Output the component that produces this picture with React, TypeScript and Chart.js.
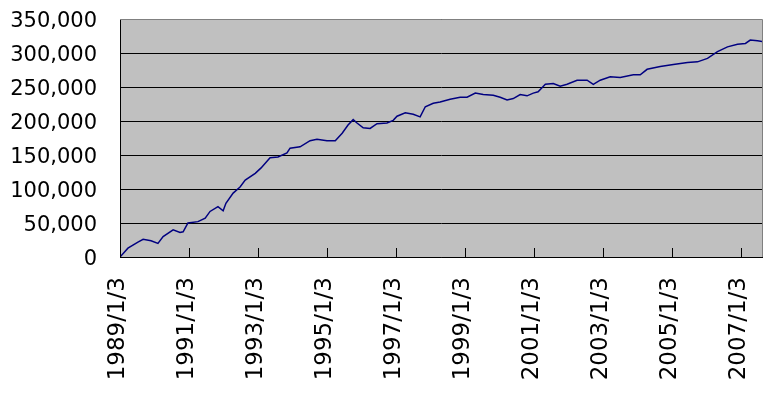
import React, { useEffect, useRef } from "react";
import { Chart, registerables } from "chart.js";

Chart.register(...registerables);

// Decimal year positions of the read points (1989.00 = 1989/1/3)
const years: number[] = [
  1989.0, 1989.23, 1989.52, 1989.67, 1989.9, 1990.1, 1990.25, 1990.54, 1990.74, 1990.83,
  1990.97, 1991.26, 1991.47, 1991.61, 1991.84, 1991.99, 1992.07, 1992.28, 1992.48, 1992.63,
  1992.92, 1993.09, 1993.35, 1993.58, 1993.84, 1993.93, 1994.22, 1994.51, 1994.71, 1995.0,
  1995.24, 1995.44, 1995.61, 1995.76, 1995.87, 1996.05, 1996.25, 1996.45, 1996.74, 1996.92,
  1997.03, 1997.27, 1997.5, 1997.7, 1997.85, 1998.08, 1998.28, 1998.57, 1998.86, 1999.06,
  1999.3, 1999.53, 1999.82, 2000.02, 2000.22, 2000.4, 2000.6, 2000.8, 2000.98, 2001.12,
  2001.33, 2001.56, 2001.76, 2001.96, 2002.25, 2002.54, 2002.72, 2002.92, 2003.21, 2003.5,
  2003.88, 2004.08, 2004.28, 2004.66, 2005.04, 2005.45, 2005.74, 2006.03, 2006.32, 2006.61,
  2006.9, 2007.13, 2007.27, 2007.48, 2007.62,
];

const values: number[] = [
  0, 13000, 22000, 26000, 24000, 20000, 30000, 40000, 36000, 37000,
  50000, 52000, 57000, 67000, 74000, 68000, 79000, 94000, 103000, 113000,
  123000, 131000, 146000, 147000, 153000, 160000, 162000, 171000, 173000, 171000,
  171000, 182000, 194000, 202000, 197000, 190000, 189000, 196000, 197000, 201000,
  207000, 212000, 210000, 206000, 221000, 226000, 228000, 232000, 235000, 235000,
  241000, 239000, 238000, 235000, 231000, 233000, 239000, 237000, 241000, 243000,
  254000, 255000, 251000, 254000, 260000, 260000, 254000, 260000, 265000, 264000,
  268000, 268000, 276000, 280000, 283000, 286000, 287000, 292000, 302000, 309000,
  313000, 314000, 319000, 318000, 317000,
];

const tickYears: number[] = [1989, 1991, 1993, 1995, 1997, 1999, 2001, 2003, 2005, 2007];
const tickLabelSuffix = "/1/3";
const xMin = 1989.0;
const xMax = 2007.61;
const yMax = 350000;
const yStep = 50000;

const plotDecor = {
  id: "plotDecor",
  beforeDraw(chart: any) {
    const { ctx, chartArea } = chart;
    ctx.save();
    ctx.fillStyle = "#C0C0C0";
    ctx.fillRect(chartArea.left, chartArea.top, chartArea.right - chartArea.left, chartArea.bottom - chartArea.top);
    ctx.restore();
  },
  afterDraw(chart: any) {
    const { ctx, chartArea } = chart;
    ctx.save();
    ctx.strokeStyle = "#808080";
    ctx.lineWidth = 1;
    ctx.beginPath();
    ctx.moveTo(chartArea.left, chartArea.top + 0.5);
    ctx.lineTo(chartArea.right + 0.5, chartArea.top + 0.5);
    ctx.lineTo(chartArea.right + 0.5, chartArea.bottom);
    ctx.stroke();
    // inside tick marks on x axis
    const xs = chart.scales.x;
    ctx.strokeStyle = "#000000";
    ctx.beginPath();
    xs.ticks.forEach((t: any) => {
      const px = Math.round(xs.getPixelForValue(t.value)) + 0.5;
      ctx.moveTo(px, chartArea.bottom);
      ctx.lineTo(px, chartArea.bottom - 9);
    });
    ctx.stroke();
    ctx.restore();
  },
};

export default function App() {
  const ref = useRef<HTMLCanvasElement>(null);
  useEffect(() => {
    document.body.style.margin = "0";
    const chart = new Chart(ref.current!, {
      type: "line",
      data: {
        datasets: [
          {
            data: years.map((x, i) => ({ x, y: values[i] })),
            borderColor: "#000080",
            borderWidth: 1.5,
            pointRadius: 0,
            tension: 0,
            fill: false,
          },
        ],
      },
      options: {
        animation: false,
        responsive: false,
        layout: { padding: { top: 19, right: 15, left: 0, bottom: 0 } },
        plugins: { legend: { display: false }, tooltip: { enabled: false } },
        scales: {
          x: {
            type: "linear",
            min: xMin,
            max: xMax,
            afterBuildTicks: (axis: any) => {
              axis.ticks = tickYears.map((v) => ({ value: v }));
            },
            afterFit: (scale: any) => {
              scale.height = 152;
              scale.paddingLeft = 0;
              scale.paddingRight = 0;
            },
            grid: { display: false, drawTicks: false },
            border: { display: true, color: "#000000", width: 1 },
            ticks: {
              autoSkip: false,
              minRotation: 90,
              maxRotation: 90,
              padding: 20,
              labelOffset: -2,
              color: "#000000",
              font: { family: "DejaVu Sans", size: 23 },
              callback: (v: any) => `${v}${tickLabelSuffix}`,
            },
          },
          y: {
            min: 0,
            max: yMax,
            afterFit: (scale: any) => {
              scale.width = 120;
              scale.paddingTop = 0;
              scale.paddingBottom = 0;
            },
            grid: { color: "#000000", lineWidth: 1, drawTicks: false },
            border: { display: true, color: "#000000", width: 1 },
            ticks: {
              stepSize: yStep,
              padding: 23,
              labelOffset: 3,
              color: "#000000",
              font: { family: "DejaVu Sans", size: 21 },
              callback: (v: any) => Number(v).toLocaleString("en-US"),
            },
          },
        },
      },
      plugins: [plotDecor],
    });
    return () => chart.destroy();
  }, []);
  return (
    <div style={{ width: 777, height: 409 }}>
      <canvas ref={ref} width={777} height={409} />
    </div>
  );
}
